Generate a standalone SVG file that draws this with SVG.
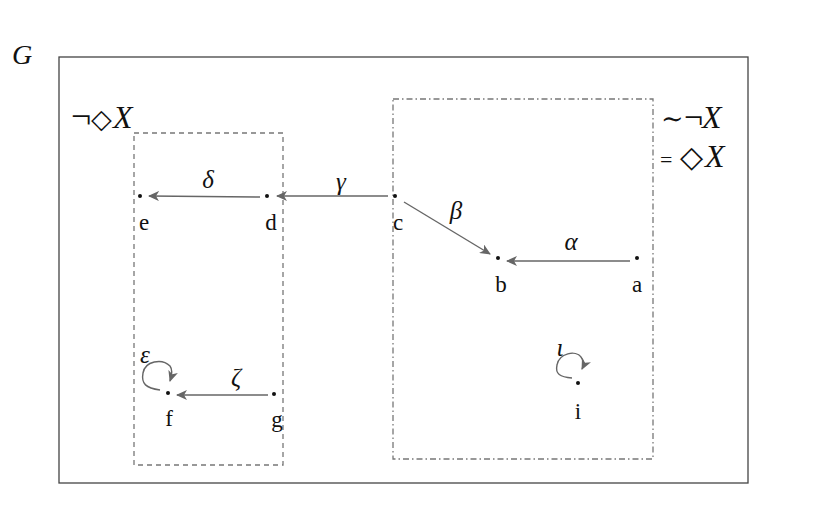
<svg xmlns="http://www.w3.org/2000/svg" width="822" height="527" viewBox="0 0 822 527">
<style>
.frame{fill:none;stroke:#444;stroke-width:1.3}
.box1{fill:none;stroke:#777;stroke-width:1.3;stroke-dasharray:5,4}
.box2{fill:none;stroke:#777;stroke-width:1.3;stroke-dasharray:6,3,1.5,3}
.edge{fill:none;stroke:#666;stroke-width:1.4}
.dot{fill:#111}
.lbl{font-family:"Liberation Serif",serif;font-size:23px;fill:#111;text-anchor:middle}
.gr{font-family:"Liberation Serif",serif;font-style:italic;font-size:25px;fill:#111;text-anchor:middle}
.big{font-family:"Liberation Serif","DejaVu Serif",serif;font-size:28px;fill:#111}
.x{font-style:italic;font-size:32px}
</style>
<defs>
<marker id="ah" markerWidth="12" markerHeight="10" refX="10" refY="5" orient="auto" markerUnits="userSpaceOnUse">
<path d="M0,0 L11,5 L0,10 L3,5 Z" fill="#666"/>
</marker>
</defs>
<rect width="822" height="527" fill="#fff"/>
<text class="big" x="12" y="64" font-style="italic" font-size="26">G</text>
<rect class="frame" x="59" y="57" width="689" height="426"/>
<rect class="box1" x="134" y="133" width="149" height="332"/>
<rect class="box2" x="393" y="99" width="260" height="360"/>
<text class="big" y="128"><tspan x="71" font-size="36">¬</tspan><tspan x="91" font-size="27">◇</tspan><tspan x="113" class="x">X</tspan></text>
<text class="big" y="128"><tspan x="661" font-size="27">∼</tspan><tspan x="684" font-size="34">¬</tspan><tspan x="702" class="x">X</tspan></text>
<text class="big" y="167"><tspan x="660" font-size="22">=</tspan><tspan x="680" font-size="30">◇</tspan><tspan x="705" class="x">X</tspan></text>
<g id="edges">
<line class="edge" x1="388" y1="196" x2="277" y2="196" marker-end="url(#ah)"/>
<line class="edge" x1="260" y1="197" x2="149" y2="196" marker-end="url(#ah)"/>
<line class="edge" x1="404" y1="202" x2="490" y2="254" marker-end="url(#ah)"/>
<line class="edge" x1="630" y1="261" x2="507" y2="261" marker-end="url(#ah)"/>
<line class="edge" x1="268" y1="395" x2="177" y2="395" marker-end="url(#ah)"/>
<path class="edge" d="M160,390 C146,388 141,384 143,373 C145,361 162,358 170,366 C173,370 172,375 170,381" marker-end="url(#ah)"/>
<path class="edge" d="M572,378 C560,377 555,374 557,365 C559,353 576,350 581,357 C584,361 584,365 582,369" marker-end="url(#ah)"/>
<text class="gr" x="341" y="190">γ</text>
<text class="gr" x="208" y="188">δ</text>
<text class="gr" x="456" y="219">β</text>
<text class="gr" x="571" y="250">α</text>
<text class="gr" x="236" y="386">ζ</text>
<text class="gr" x="145" y="363">ε</text>
<text class="gr" x="560" y="356">ι</text>
</g>
<g id="node-a"><circle class="dot" cx="637" cy="258" r="2"/><text class="lbl" x="637" y="292">a</text></g>
<g id="node-b"><circle class="dot" cx="498" cy="258" r="2"/><text class="lbl" x="501" y="292">b</text></g>
<g id="node-c"><circle class="dot" cx="395" cy="196" r="2"/><text class="lbl" x="398" y="230">c</text></g>
<g id="node-d"><circle class="dot" cx="267" cy="196" r="2"/><text class="lbl" x="271" y="230">d</text></g>
<g id="node-e"><circle class="dot" cx="140" cy="196" r="2"/><text class="lbl" x="144" y="230">e</text></g>
<g id="node-f"><circle class="dot" cx="168" cy="393" r="2"/><text class="lbl" x="169" y="426">f</text></g>
<g id="node-g"><circle class="dot" cx="274" cy="394" r="2"/><text class="lbl" x="277" y="427">g</text></g>
<g id="node-i"><circle class="dot" cx="578" cy="383" r="2"/><text class="lbl" x="578" y="419">i</text></g>
</svg>
